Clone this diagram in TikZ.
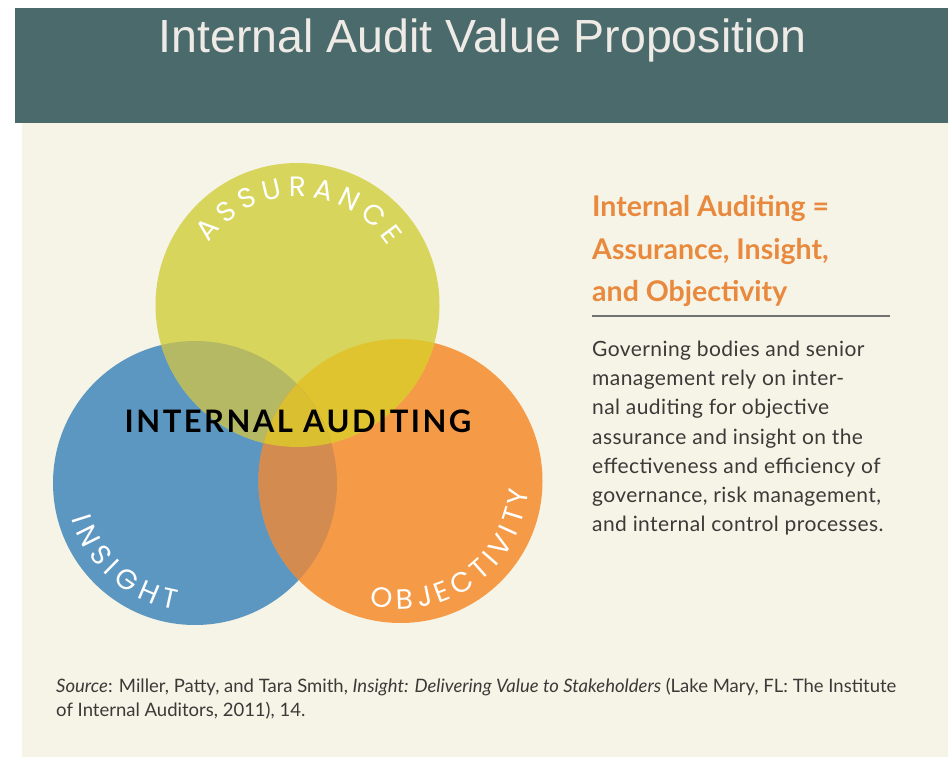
\documentclass[tikz,border=0pt]{standalone}
\usepackage{fontspec}
\setmainfont{Lato}
\newfontfamily\titlefont{Liberation Sans}
\newfontfamily\bigfont{Lato}[LetterSpace=8]
\newfontfamily\bodyfont{Lato}[LetterSpace=2]
\newfontfamily\srcfont{Lato}
\newfontfamily\circfont{Poppins}
\usetikzlibrary{decorations.text}
\definecolor{barcol}{HTML}{4B6A6B}
\definecolor{titlecol}{HTML}{EEEAE6}
\definecolor{bgcol}{HTML}{F6F4E6}
\definecolor{cyel}{HTML}{D7D55B}
\definecolor{cblue}{HTML}{5C97C2}
\definecolor{corange}{HTML}{F59B48}
\definecolor{cyb}{HTML}{B6B963}
\definecolor{cyo}{HTML}{E0C42F}
\definecolor{cbo}{HTML}{D48B4F}
\definecolor{cybo}{HTML}{DABF30}
\definecolor{headcol}{HTML}{E8893D}
\definecolor{rulecol}{HTML}{707070}
\definecolor{bodycol}{HTML}{3C3A38}
\tikzset{
  titlestyle/.style={inner sep=0pt, text=titlecol, font=\titlefont\fontsize{46.5}{50}\selectfont},
  headstyle/.style={inner sep=0pt, anchor=base west, text=headcol, font=\bfseries\fontsize{28.5}{32}\selectfont},
  bodystyle/.style={inner sep=0pt, anchor=base west, text=bodycol, font=\bodyfont\fontsize{21}{25}\selectfont},
  srcstyle/.style={inner sep=0pt, anchor=base west, text=bodycol, font=\srcfont\fontsize{18.5}{22}\selectfont},
  bigstyle/.style={inner sep=0pt, anchor=base, text=black, font=\bigfont\bfseries\fontsize{31}{34}\selectfont},
  circtext/.style={decorate, decoration={text along path, text={|\circfont\fontsize{28}{28}\selectfont|#1}, text align={fit to path}, text color=white}}
}
\begin{document}
\begin{tikzpicture}[x=1pt,y=1pt]
\useasboundingbox (0,0) rectangle (948,757);
\fill[white] (0,0) rectangle (948,757);
\fill[bgcol] (22,0) rectangle (948,634);
\fill[barcol] (15,634) rectangle (948,749);
\node[titlestyle, anchor=base] (title) at (482.5,704) {Internal Audit Value Proposition};

% circle centres
\coordinate (Y) at (297.5,452);
\coordinate (B) at (195,274);
\coordinate (O) at (400.5,276);
\def\R{142}
\fill[cblue] (B) circle[radius=\R];
\fill[corange] (O) circle[radius=\R];
\fill[cyel] (Y) circle[radius=\R];
\begin{scope}
  \clip (Y) circle[radius=\R];
  \fill[cyb] (B) circle[radius=\R];
  \fill[cyo] (O) circle[radius=\R];
\end{scope}
\begin{scope}
  \clip (B) circle[radius=\R];
  \fill[cbo] (O) circle[radius=\R];
  \clip (O) circle[radius=\R];
  \fill[cybo] (Y) circle[radius=\R];
\end{scope}

\path[circtext=ASSURANCE] (Y) ++(145:108) arc[start angle=145, end angle=33, radius=108];
\path[circtext=INSIGHT] (B) ++(196:128) arc[start angle=196, end angle=261, radius=128];
\path[circtext=OBJECTIVITY] (O) ++(256:128) arc[start angle=256, end angle=356, radius=128];

\node[bigstyle] (ia) at (298,324) {INTERNAL AUDITING};

\node[headstyle] (h1) at (592,540) {Internal Auditing =};
\node[headstyle] (h2) at (592,497) {Assurance, Insight,};
\node[headstyle] (h3) at (592,455) {and Objectivity};
\coordinate (r1) at (592,441);
\coordinate (r2) at (890,441);
\draw[rulecol, line width=2pt] (r1) -- (r2);

\node[bodystyle] (b1) at (592,400) {Governing bodies and senior};
\node[bodystyle] (b2) at (592,371) {management rely on inter-};
\node[bodystyle] (b3) at (592,342) {nal auditing for objective};
\node[bodystyle] (b4) at (592,312.5) {assurance and insight on the};
\node[bodystyle] (b5) at (592,283.5) {effectiveness and efficiency of};
\node[bodystyle] (b6) at (592,254) {governance, risk management,};
\node[bodystyle] (b7) at (592,225) {and internal control processes.};

\node[srcstyle] (s1) at (56,64) {\textit{Source}: Miller, Patty, and Tara Smith, \textit{Insight: Delivering Value to Stakeholders} (Lake Mary, FL: The Institute};
\node[srcstyle] (s2) at (56,40) {of Internal Auditors, 2011), 14.};
\end{tikzpicture}
\end{document}
